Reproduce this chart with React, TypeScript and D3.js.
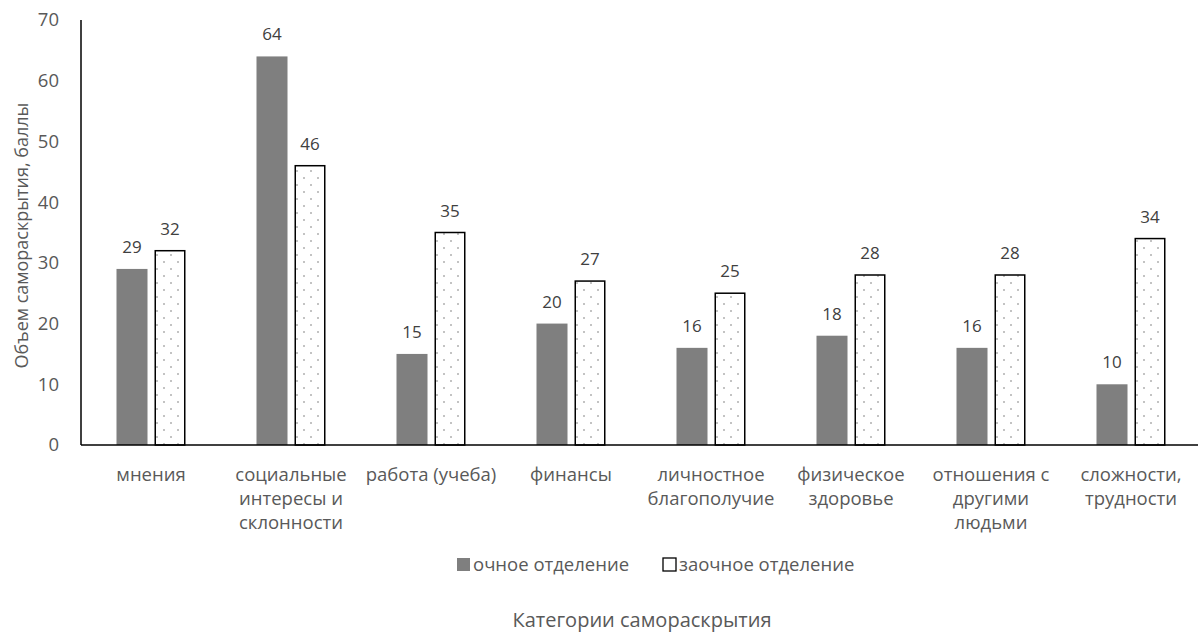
import React from "react";
import * as d3 from "d3";

const categories: string[][] = [
  ["мнения"],
  ["социальные", "интересы и", "склонности"],
  ["работа (учеба)"],
  ["финансы"],
  ["личностное", "благополучие"],
  ["физическое", "здоровье"],
  ["отношения с", "другими", "людьми"],
  ["сложности,", "трудности"],
];
const fullTime = [29, 64, 15, 20, 16, 18, 16, 10];
const partTime = [32, 46, 35, 27, 25, 28, 28, 34];
const seriesNames = ["очное отделение", "заочное отделение"];
const yTicks = [0, 10, 20, 30, 40, 50, 60, 70];

const W = 1198;
const H = 633;
const FONT = "'Open Sans', 'Noto Sans', sans-serif";
const TXT = "#595959";

export default function App() {
  const left = 81;
  const top = 20;
  const bottom = 445;
  const x = d3
    .scaleBand<number>()
    .domain(d3.range(categories.length))
    .range([left, left + 140 * categories.length])
    .paddingInner(0)
    .paddingOuter(0);
  const y = d3.scaleLinear().domain([0, 70]).range([bottom, top]);
  const barW = 31;
  const gap = 7;

  return (
    <svg
      width={W}
      height={H}
      style={{ position: "absolute", left: 0, top: 0, background: "#fff" }}
      fontFamily={FONT}
    >
      <defs>
        <pattern id="dots" width={14} height={14} patternUnits="userSpaceOnUse">
          <rect width={14} height={14} fill="#fff" />
          <circle cx={3} cy={3} r={0.8} fill="#777" />
          <circle cx={10} cy={10} r={0.8} fill="#777" />
        </pattern>
      </defs>
      {yTicks.map((t) => (
        <text
          key={t}
          x={59}
          y={y(t)}
          dy="0.35em"
          textAnchor="end"
          fontSize={18.5}
          fill={TXT}
        >
          {t}
        </text>
      ))}
      {categories.map((_, i) => {
        const c = (x(i) as number) + x.bandwidth() / 2;
        const x1 = c - gap / 2 - barW;
        const x2 = c + gap / 2;
        return (
          <g key={i}>
            <rect
              x={x1}
              y={y(fullTime[i])}
              width={barW}
              height={bottom - y(fullTime[i])}
              fill="#7f7f7f"
            />
            <rect
              x={x2 + 0.75}
              y={y(partTime[i])}
              width={barW - 1.5}
              height={bottom - y(partTime[i])}
              fill="url(#dots)"
              stroke="#000"
              strokeWidth={1.5}
            />
            <text
              x={x1 + barW / 2}
              y={y(fullTime[i]) - 16}
              textAnchor="middle"
              fontSize={17}
              fill="#404040"
            >
              {fullTime[i]}
            </text>
            <text
              x={x2 + barW / 2}
              y={y(partTime[i]) - 16}
              textAnchor="middle"
              fontSize={17}
              fill="#404040"
            >
              {partTime[i]}
            </text>
            {categories[i].map((line, k) => (
              <text
                key={k}
                x={c}
                y={481 + k * 24}
                textAnchor="middle"
                fontSize={18.5}
                fill={TXT}
              >
                {line}
              </text>
            ))}
          </g>
        );
      })}
      <line x1={left} x2={left} y1={top} y2={bottom} stroke="#000" strokeWidth={1.5} />
      <line x1={left} x2={W} y1={bottom} y2={bottom} stroke="#000" strokeWidth={1.5} />
      <text
        transform={`translate(28,${(top + bottom) / 2 + 3}) rotate(-90)`}
        textAnchor="middle"
        fontSize={18}
        fill={TXT}
      >
        Объем самораскрытия, баллы
      </text>
      <rect x={457} y={558} width={13} height={13} fill="#7f7f7f" />
      <text x={473} y={571} fontSize={18.5} fill={TXT}>
        {seriesNames[0]}
      </text>
      <rect x={663} y={558} width={13} height={13} fill="#fff" stroke="#000" strokeWidth={1.3} />
      <text x={679} y={571} fontSize={18.5} fill={TXT}>
        {seriesNames[1]}
      </text>
      <text x={642} y={627} textAnchor="middle" fontSize={20} fill={TXT}>
        Категории самораскрытия
      </text>
    </svg>
  );
}
